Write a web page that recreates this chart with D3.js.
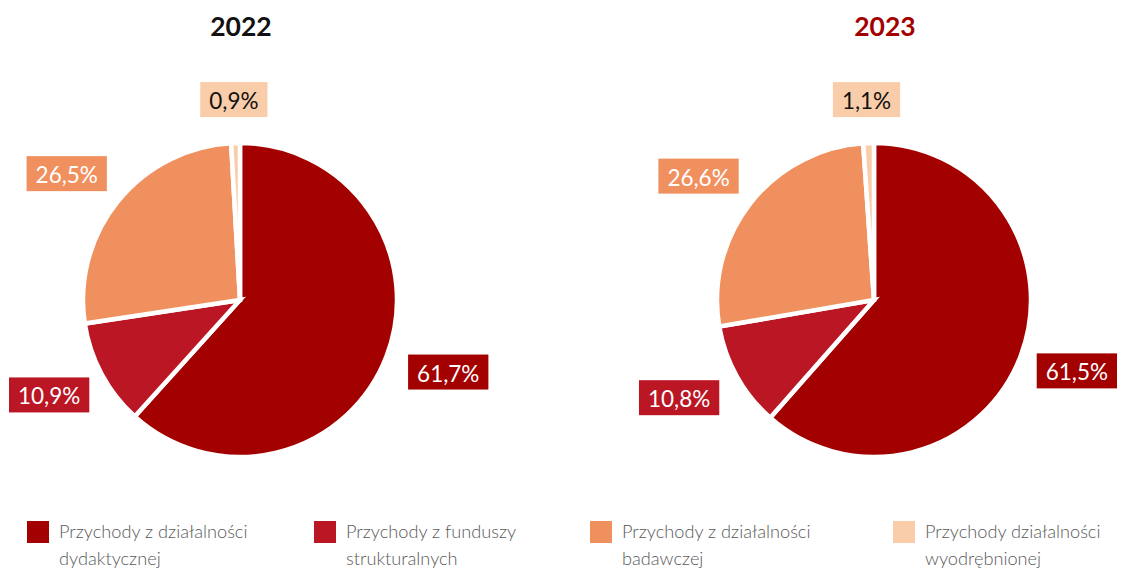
<!DOCTYPE html>
<html>
<head>
<meta charset="utf-8">
<script src="https://cdn.jsdelivr.net/npm/d3@7"></script>
<style>
  html, body { margin: 0; padding: 0; background: #fff; }
  svg { display: block; font-family: Lato, "Open Sans", sans-serif; }
</style>
</head>
<body>
<svg id="chart" width="1126" height="568"></svg>
<script>
// Revenue structure by source, shares in percent
const categories = [
  ["Przychody z działalności", "dydaktycznej"],
  ["Przychody z funduszy", "strukturalnych"],
  ["Przychody z działalności", "badawczej"],
  ["Przychody działalności", "wyodrębnionej"]
];
const years = ["2022", "2023"];
const values2022 = [61.7, 10.9, 26.5, 0.9];
const values2023 = [61.5, 10.8, 26.6, 1.1];
const colors = ["#a30000", "#ba1624", "#f0905e", "#facdaa"];
const labelText = ["#ffffff", "#ffffff", "#ffffff", "#111111"];
const titleColors = ["#111111", "#a30000"];

const svg = d3.select("#chart");
const W = 1126;

// one panel per year
const panels = [
  { year: years[0], values: values2022, cx: 240, cy: 300, titleX: 241 },
  { year: years[1], values: values2023, cx: 874, cy: 300, titleX: 885 }
];

const R = 157;
const pie = d3.pie().sort(null).value(d => d);
const arc = d3.arc().innerRadius(0).outerRadius(R);
const fmt = v => d3.format(".1f")(v).replace(".", ",") + "%";

panels.forEach((p, pi) => {
  svg.append("text")
    .attr("x", p.titleX).attr("y", 36)
    .attr("text-anchor", "middle")
    .attr("font-size", 26.5).attr("font-weight", 700)
    .attr("fill", titleColors[pi])
    .text(p.year);

  const g = svg.append("g").attr("transform", `translate(${p.cx},${p.cy})`);
  const arcs = pie(p.values);

  g.selectAll("path.slice").data(arcs).join("path")
    .attr("class", "slice")
    .attr("d", arc)
    .attr("fill", (d, i) => colors[i])
    .attr("stroke", "#fff")
    .attr("stroke-width", 4.5)
    .attr("stroke-linejoin", "miter");

  // value labels in filled boxes just outside each slice, kept inside the page
  const lg = g.selectAll("g.lbl").data(arcs).join("g").attr("class", "lbl");
  lg.each(function(d, i) {
    const sel = d3.select(this);
    const t = sel.append("text")
      .attr("font-size", 22.5)
      .attr("text-anchor", "middle")
      .attr("dominant-baseline", "central")
      .attr("fill", labelText[i])
      .text(fmt(d.data));
    const tw = t.node().getComputedTextLength();
    const bw = tw + 18, bh = 35;
    const a = (d.startAngle + d.endAngle) / 2;
    const ux = Math.sin(a), uy = -Math.cos(a);
    const ar = R + 26;
    let cx = ar * ux + ux * bw / 2;
    const cy = ar * uy + uy * bh / 2;
    const minX = 9 - p.cx + bw / 2, maxX = W - 9 - p.cx - bw / 2;
    cx = Math.max(minX, Math.min(maxX, cx));
    sel.insert("rect", "text")
      .attr("x", cx - bw / 2).attr("y", cy - bh / 2)
      .attr("width", bw).attr("height", bh)
      .attr("fill", colors[i]);
    t.attr("x", cx).attr("y", cy + 1);
  });
});

// legend
const legendX = [27, 314, 590, 893];
const lgd = svg.selectAll("g.legend").data(categories).join("g")
  .attr("class", "legend")
  .attr("transform", (d, i) => `translate(${legendX[i]},521)`);
lgd.append("rect")
  .attr("width", 22).attr("height", 22)
  .attr("fill", (d, i) => colors[i]);
lgd.append("text")
  .attr("x", 32).attr("y", 17)
  .attr("font-size", 18.2).attr("font-weight", 300)
  .attr("fill", "#595959")
  .selectAll("tspan").data(d => d).join("tspan")
  .attr("x", 32).attr("dy", (d, i) => i === 0 ? 0 : 27)
  .text(d => d);
</script>
</body>
</html>
